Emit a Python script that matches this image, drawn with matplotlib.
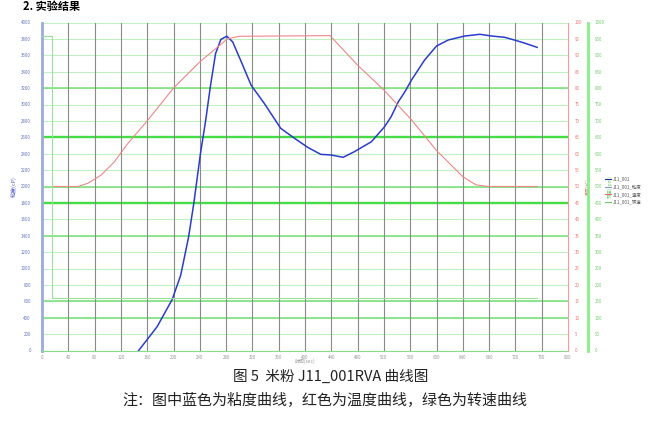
import matplotlib
matplotlib.use("Agg")
import matplotlib.pyplot as plt
from matplotlib.lines import Line2D

plt.rcParams['font.family'] = ['Noto Sans CJK SC', 'DejaVu Sans']

# viscosity curve (cP)
time_visc = [147, 160, 175, 198, 211, 223, 231, 241, 249, 256, 264, 272, 281, 290,
             302, 318, 338, 363, 384, 404, 424, 440, 458, 475, 501, 521, 531, 542,
             552, 562, 582, 600, 618, 643, 666, 684, 704, 722, 735, 753]
visc = [0, 134, 289, 622, 919, 1386, 1801, 2402, 2809, 3215, 3622, 3793, 3833, 3764,
        3541, 3236, 3014, 2710, 2588, 2478, 2392, 2384, 2356, 2424, 2546, 2729, 2851, 3034,
        3156, 3299, 3543, 3713, 3787, 3835, 3856, 3835, 3819, 3778, 3746, 3697]

# temperature profile (℃)
time_temp = [16, 55, 70, 90, 110, 130, 160, 200, 240, 270, 282, 300, 438, 480, 520,
             562, 600, 640, 660, 680, 753]
temp = [50, 50, 51, 53.5, 57.5, 63, 70, 80, 88, 93, 95, 95.8, 96, 87, 79.4,
        70.3, 61, 53, 50.5, 50, 50]

# paddle speed (rpm)
time_speed = [0, 15, 15, 753]
speed = [960, 960, 160, 160]

x_ticks = list(range(0, 801, 40))
visc_ticks = list(range(0, 4001, 200))
temp_ticks = list(range(0, 101, 5))
speed_ticks = list(range(0, 1001, 50))
bold_grid = [2600, 1800]
mid_grid = [3200, 2000, 1400, 600, 400]

legend_labels = ["J11_001", "J11_001_粘度", "J11_001_温度", "J11_001_转速"]
legend_colors = ["#2233aa", "#8899cc", "#ee6666", "#66cc66"]

fig = plt.figure(figsize=(6.5, 4.21), dpi=100)
ax = fig.add_axes([42/650, (421-350.5)/421, 526/650, 328/421])

# grid
for v in visc_ticks:
    ax.axhline(v, color="#c0f2c0", lw=0.8, zorder=0)
for v in mid_grid:
    ax.axhline(v, color="#77e077", lw=1.1, zorder=0)
for v in bold_grid:
    ax.axhline(v, color="#44dd44", lw=1.7, zorder=0)
for t in x_ticks[1:-1]:
    ax.axvline(t, color="#8a8a8a", lw=0.8, zorder=0)

ax.plot(time_visc, visc, color="#2a3ccc", lw=1.1, zorder=5)
ax.set_xlim(0, 800)
ax.set_ylim(0, 4000)
ax.set_xticks(x_ticks)
ax.set_yticks(visc_ticks)
ax.tick_params(axis="x", labelsize=3.2, colors="#999999", length=0, pad=3)
ax.tick_params(axis="y", labelsize=3.2, colors="#6677bb", length=0, pad=8)
ax.set_ylabel("粘度(cP)", fontsize=4, color="#5566cc", labelpad=3)
ax.set_xlabel("时间(sec)", fontsize=3.5, color="#999999", labelpad=-1)
ax.spines["left"].set_color("#99aadd")
ax.spines["left"].set_linewidth(2)
ax.spines["bottom"].set_color("#88dd88")
ax.spines["top"].set_visible(False)
ax.spines["right"].set_visible(False)

ax2 = ax.twinx()
ax2.plot(time_temp, temp, color="#ee8888", lw=0.8)
ax2.set_ylim(0, 100)
ax2.set_yticks(temp_ticks)
ax2.tick_params(axis="y", labelsize=3.2, colors="#ee7777", length=0, pad=5)
ax2.set_ylabel("温度(℃)", fontsize=3.5, color="#ee7777", labelpad=2)
ax2.spines["right"].set_color("#ff9999")
ax2.spines["left"].set_visible(False)
ax2.spines["top"].set_visible(False)
ax2.spines["bottom"].set_visible(False)

ax3 = ax.twinx()
ax3.plot(time_speed, speed, color="#99e099", lw=0.8)
ax3.set_ylim(0, 1000)
ax3.set_yticks(speed_ticks)
ax3.spines["right"].set_position(("axes", 1.038))
ax3.spines["right"].set_color("#88ee88")
ax3.spines["right"].set_linewidth(2)
ax3.tick_params(axis="y", labelsize=3.2, colors="#77cc77", length=0, pad=5)
ax3.set_ylabel("转速(rpm)", fontsize=3.5, color="#77cc77", labelpad=2)
for s in ["left", "top", "bottom"]:
    ax3.spines[s].set_visible(False)

handles = [Line2D([0], [0], color=c, lw=0.8) for c in legend_colors]
fig.legend(handles, legend_labels, loc="upper left", bbox_to_anchor=(0.925, 0.59),
           fontsize=3.2, frameon=False, handlelength=1.2, labelspacing=0.6,
           handletextpad=0.5, labelcolor="#555555")

fig.text(0.035, 0.999, "2. 实验结果", fontsize=8, fontweight="bold", va="top")
fig.text(0.508, (421-377)/421, "图 5  米粉 J11_001RVA 曲线图", fontsize=10.5,
         ha="center", va="center", color="#222222")
fig.text(0.5, (421-400)/421, "注：图中蓝色为粘度曲线，红色为温度曲线，绿色为转速曲线",
         fontsize=10.8, ha="center", va="center", color="#222222")

fig.savefig("out.png", dpi=100)
